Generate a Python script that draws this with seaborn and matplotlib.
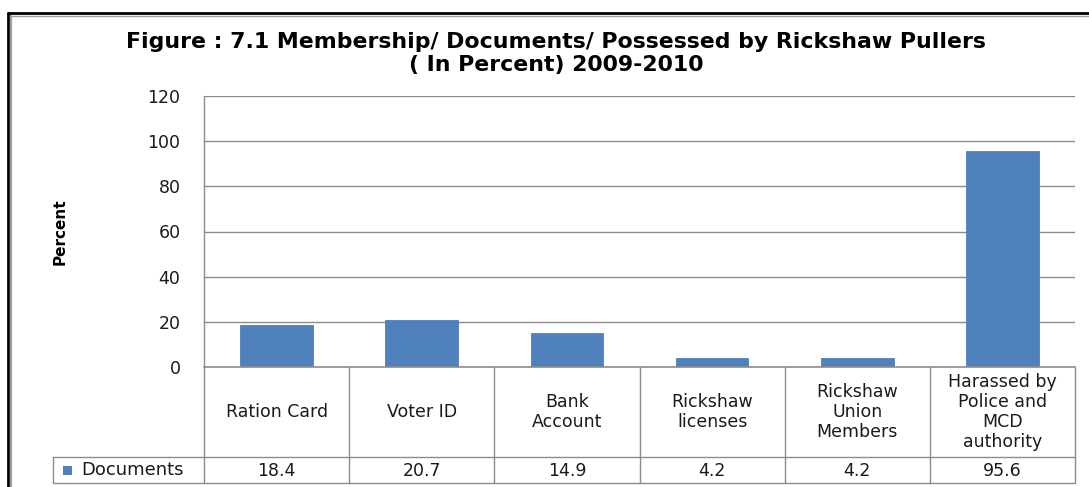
import matplotlib
matplotlib.use("Agg")
import matplotlib.pyplot as plt
import matplotlib.transforms as mtransforms
from matplotlib.patches import Rectangle
from matplotlib.lines import Line2D
import seaborn as sns
import pandas as pd

# Data
categories = ["Ration Card", "Voter ID", "Bank\nAccount", "Rickshaw\nlicenses",
              "Rickshaw\nUnion\nMembers", "Harassed by\nPolice and\nMCD\nauthority"]
documents = [18.4, 20.7, 14.9, 4.2, 4.2, 95.6]
series_name = "Documents"
yticks = [0, 20, 40, 60, 80, 100, 120]

BAR = "#4F81BD"
GRID = "#8C8C8C"
FONT = "DejaVu Sans"

sns.set_theme(style="white")
plt.rcParams["font.family"] = [FONT]

W, H = 1089, 487
fig = plt.figure(figsize=(W / 100, H / 100), dpi=100)
fig.patch.set_facecolor("white")

def fx(px):
    return px / W

def fy(py):
    return 1 - py / H

# chart frame (double border)
fig.add_artist(Line2D([fx(8), fx(8)], [fy(13), fy(490)], color="black", lw=2.0, transform=fig.transFigure))
fig.add_artist(Line2D([fx(8), fx(1095)], [fy(13), fy(13)], color="black", lw=2.0, transform=fig.transFigure))
fig.add_artist(Line2D([fx(11), fx(11)], [fy(15.5), fy(490)], color="#A0A0A0", lw=1.6, transform=fig.transFigure))
fig.add_artist(Line2D([fx(11), fx(1095)], [fy(15.5), fy(15.5)], color="#A0A0A0", lw=1.0, transform=fig.transFigure))

left, right, top, bottom = 204, 1075, 96, 367
ax = fig.add_axes([fx(left), fy(bottom), fx(right - left), (bottom - top) / H])

df = pd.DataFrame({"category": categories, "value": documents})
sns.barplot(data=df, x="category", y="value", color=BAR, width=0.5, saturation=1,
            edgecolor=BAR, linewidth=0.6, ax=ax, zorder=3)

ax.set_xlim(-0.5, len(categories) - 0.5)
ax.set_ylim(0, 120)
ax.set_yticks(yticks)
ax.set_yticklabels([str(t) for t in yticks], fontsize=12.5, color="#1a1a1a")
ax.tick_params(axis="y", length=0, pad=17)
ax.set_xticks([])
ax.set_xlabel("")
ax.set_ylabel("")
ax.grid(axis="y", color=GRID, lw=1.0, zorder=0)
for s in ["top", "right", "bottom"]:
    ax.spines[s].set_visible(False)
ax.spines["left"].set_color(GRID)
ax.spines["left"].set_linewidth(1.0)

fig.text(fx(60), fy(232), "Percent", rotation=90, ha="center", va="center",
         fontsize=11, color="black", family="Liberation Sans Narrow", fontweight="bold")

# title
fig.text(fx(556), fy(42), "Figure : 7.1 Membership/ Documents/ Possessed by Rickshaw Pullers",
         ha="center", va="center", fontsize=15.8, fontweight="bold", color="black")
fig.text(fx(556), fy(65), "( In Percent) 2009-2010",
         ha="center", va="center", fontsize=15.8, fontweight="bold", color="black")

# data table under the axis
tr = mtransforms.blended_transform_factory(ax.transData, fig.transFigure)
row1_bot, row2_bot = 457, 483
n = len(categories)
for i in range(n + 1):
    xb = i - 0.5
    fig.add_artist(Line2D([xb, xb], [fy(bottom), fy(row2_bot)], color=GRID, lw=1.0, transform=tr))
fig.add_artist(Line2D([-0.5, n - 0.5], [fy(bottom), fy(bottom)], color=GRID, lw=1.2, transform=tr))
fig.add_artist(Line2D([fx(53), fx(right)], [fy(row1_bot), fy(row1_bot)], color=GRID, lw=1.0, transform=fig.transFigure))
fig.add_artist(Line2D([fx(53), fx(right)], [fy(row2_bot), fy(row2_bot)], color=GRID, lw=1.0, transform=fig.transFigure))
fig.add_artist(Line2D([fx(53), fx(53)], [fy(row1_bot), fy(row2_bot)], color=GRID, lw=1.0, transform=fig.transFigure))

for i, (cat, val) in enumerate(zip(categories, documents)):
    fig.text(i, fy((bottom + row1_bot) / 2), cat, transform=tr, ha="center", va="center",
             fontsize=12.5, linespacing=1.12, color="#1a1a1a")
    fig.text(i, fy((row1_bot + row2_bot) / 2 + 1), f"{val:.1f}", transform=tr, ha="center",
             va="center", fontsize=12.5, color="#1a1a1a")

fig.add_artist(Rectangle((fx(63), fy(475)), fx(9), 9 / H, facecolor=BAR, edgecolor="none",
                         transform=fig.transFigure))
fig.text(fx(81), fy(470), series_name, ha="left", va="center", fontsize=13, color="#1a1a1a")

fig.savefig("out.png", dpi=100, facecolor="white")
